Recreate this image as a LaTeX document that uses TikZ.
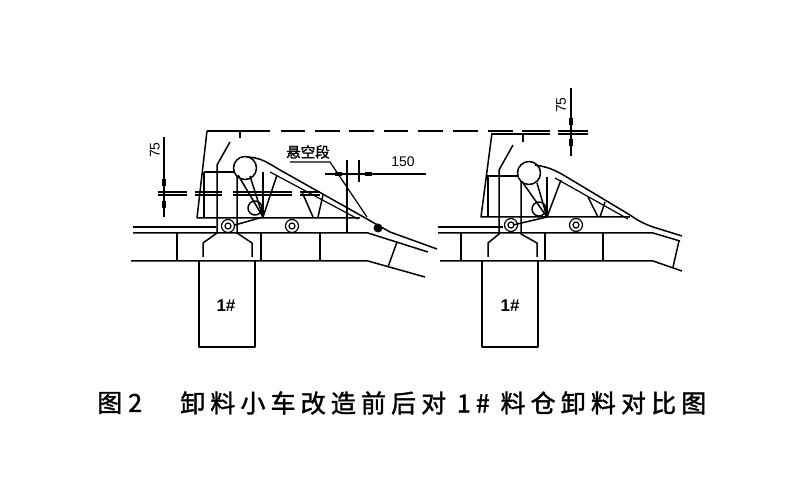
\documentclass[tikz,border=0pt]{standalone}
\usepackage{fontspec}
\setmainfont{Liberation Sans}
\newfontfamily\cjk[FakeBold=1.5]{Noto Sans CJK SC}
\newfontfamily\cjkcap[LetterSpace=20.5,FakeBold=1.5]{Noto Sans CJK SC}
\usetikzlibrary{positioning}
\tikzset{
  part/.style={line width=1.5pt, line join=round},
  thin part/.style={line width=1.2pt},
  level/.style={line width=1.8pt},
  dimtext/.style={font=\fontsize{14}{14}\selectfont, inner sep=0pt},
  arrowdot/.style={fill=black, minimum width=4pt, minimum height=7pt, inner sep=0pt}
}

\begin{document}
\begin{tikzpicture}[x=1pt, y=-1pt]
  \useasboundingbox (0,0) rectangle (807,500);

  % top level dashed line
  \foreach \a/\b in {207/270, 281/305, 315/340, 349/374, 384/408, 418/443, 453/478, 488/513, 522/550, 558/588} {
    \draw[level] (\a,131) -- (\b,131);
    }
  \draw[part] (492,134) -- (550,134);

  % dashed level of the old trolley
  \foreach \a/\b in {158/187, 195/222, 233/292, 300/320} {
    \draw[level, line width=1.2pt] (\a,192) -- (\b,192);
    \draw[level, line width=1.2pt] (\a,195) -- (\b,195);
    }

  % rails, posts and bin, left
  \draw[part] (133,227) -- (216,227);
  \draw[part] (133,233) -- (368,233) -- (428,252);
  \draw[part] (131,261) -- (368,261) -- (425,277);
  \draw[part] (397,242) -- (388,267);
  \foreach \x in {177,261,320} {
    \draw[part] (\x,233) -- (\x,261);
    }
  \draw[part] (347,217) -- (347,233);
  \draw[part] (199,261) -- (199,347) -- (255,347) -- (255,261);
  \node[dimtext, font=\bfseries\fontsize{17}{17}\selectfont] (binleft) at (226,306) {1\#};

  % trolley, left
  \draw[part] (207,131) -- (197,218) -- (360,218);
  \draw[part] (240,131) -- (240,138);
  \draw[part] (230,142) -- (217,165) -- (217,233) -- (203,243) -- (203,257);
  \draw[part] (237,167) -- (237,233) -- (252,243) -- (252,257);
  \draw[part] (204,172) -- (235,172);
  \draw[part] (204,172) -- (204,218);
  \draw[part, fill=white] (245,168) circle (11.5pt);
  \draw[part] (255,208) circle (7pt);
  \draw[part] (238,175) -- (263,217);
  \draw[part] (250,176) -- (263,217) -- (277,175);
  \draw[part] (263,172) -- (263,217);
  \draw[part] (302,192) -- (313,217);
  \draw[part] (323,195) -- (318,217);
  \draw[part] (235,225) -- (263,217);
  \foreach \x in {228,292} {
    \draw[thin part] (\x,226) circle (6.5pt);
    \draw[thin part] (\x,226) circle (3pt);
    }

  % belt, left
  \draw[part] (248,157) .. controls (262,158) and (268,163) .. (280,170) -- (360,215);
  \draw[thin part] (270,172) -- (358,219);
  \draw[part] (360,215) -- (390,232) -- (437,249);

  % overhang label and 150 dimension
  \node[dimtext, font=\cjk\fontsize{14.5}{14.5}\selectfont] (overhang) at (308,152) {悬空段};
  \draw[thin part] (290,162) -- (330,162) -- (367,217);
  \fill (378,228) circle (4.5pt);
  \draw[part] (347,160) -- (347,217);
  \draw[part] (359,160) -- (359,182);
  \draw[part] (325,174) -- (426,174);
  \node[arrowdot, minimum width=7pt, minimum height=4pt] (tipa) at (338,174) {};
  \node[arrowdot, minimum width=7pt, minimum height=4pt] (tipb) at (368,174) {};
  \node[dimtext] (dimb) at (403,162) {150};

  % 75 dimension, left
  \draw[part] (164,137) -- (164,217);
  \node[arrowdot] (tipc) at (164,183) {};
  \node[arrowdot] (tipd) at (164,205) {};
  \node[dimtext, rotate=90] (dima) at (155,150) {75};

  % rails, posts and bin, right
  \draw[part] (438,227) -- (503,227);
  \draw[part] (438,233) -- (653,233) -- (680,241);
  \draw[part] (440,261) -- (653,261) -- (682,271);
  \draw[part] (679,241) -- (673,267);
  \foreach \x in {461,545,603} {
    \draw[part] (\x,233) -- (\x,261);
    }
  \draw[part] (482,261) -- (482,347) -- (538,347) -- (538,261);
  \node[dimtext, font=\bfseries\fontsize{17}{17}\selectfont] (binright) at (510,306) {1\#};

  % trolley, right
  \draw[part] (492,133) -- (481,217) -- (630,217);
  \draw[part] (523,133) -- (523,142);
  \draw[part] (513,145) -- (499,170) -- (499,234) -- (488,243) -- (488,257);
  \draw[part] (521,177) -- (521,234) -- (537,243) -- (537,257);
  \draw[part] (487,176) -- (518,176);
  \draw[part] (488,176) -- (488,217);
  \draw[part, fill=white] (529,173) circle (11.5pt);
  \draw[part] (539,209) circle (7pt);
  \draw[part] (523,183) -- (547,217);
  \draw[part] (537,183) -- (547,217) -- (561,180);
  \draw[part] (547,177) -- (547,217);
  \draw[part] (588,197) -- (598,217);
  \draw[part] (605,202) -- (600,217);
  \draw[part] (513,225) -- (547,217);
  \foreach \x in {511,576} {
    \draw[thin part] (\x,225) circle (6.5pt);
    \draw[thin part] (\x,225) circle (3pt);
    }

  % belt, right
  \draw[part] (535,165) .. controls (548,167) and (555,170) .. (565,176) -- (630,215) .. controls (640,222) and (645,224) .. (653,227) -- (682,236);
  \draw[thin part] (555,178) -- (628,219);

  % 75 dimension, right
  \draw[part] (571,88) -- (571,156);
  \draw[level] (558,134) -- (588,134);
  \node[arrowdot] (tipe) at (571,122) {};
  \node[arrowdot] (tipf) at (571,143) {};
  \node[dimtext, rotate=90] (dimc) at (561,105) {75};

  % caption
  \node[anchor=west, inner sep=0pt, font=\fontsize{25}{25}\selectfont] (figno) at (97,403) {\cjk 图\hspace{6pt}2};
  \node[anchor=west, inner sep=0pt, font=\fontsize{25}{25}\selectfont] (caption) at (180,403) {\cjkcap 卸料小车改造前后对 1\# 料仓卸料对比图};
\end{tikzpicture}
\end{document}
